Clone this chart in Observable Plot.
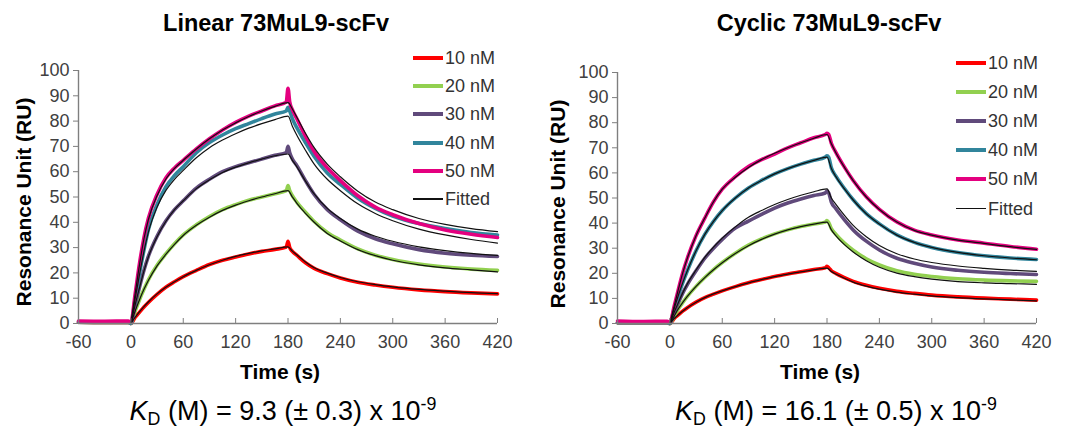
<!DOCTYPE html>
<html><head><meta charset="utf-8">
<script src="https://cdn.jsdelivr.net/npm/d3@7"></script>
<script src="https://cdn.jsdelivr.net/npm/@observablehq/plot@0.6"></script>
<style>
body{margin:0;background:#fff;}
#root{position:relative;width:1068px;height:429px;overflow:hidden;font-family:"Liberation Sans",Arial,sans-serif;}
.panel{position:absolute;top:0;}
.t{position:absolute;transform:translate(-50%,-50%);white-space:nowrap;line-height:1;color:#000;}
.title{font-weight:bold;font-size:23.5px;}
.axt{font-weight:bold;font-size:21px;}
.kd{font-size:27px;}
.leg{position:absolute;font-size:18px;color:#333;line-height:1;}
.legrow{position:absolute;left:0;display:flex;align-items:center;transform:translateY(-50%);white-space:nowrap;}
.legline{width:30px;margin-right:2px;}
</style>
</head><body>
<div id="root"></div>
<script>
// ---------- data ----------
const dataTime = [-60,-30,-3,0,5,10,15,20,30,40,50,60,75,90,105,120,135,150,165,178,180,182,185,190,200,210,225,240,260,280,300,330,360,390,420];
const fitTime = [0,5,10,15,20,30,40,50,60,75,90,105,120,135,150,165,180,185,190,200,210,225,240,260,280,300,330,360,390,420];
const concentrations = ["10 nM","20 nM","30 nM","40 nM","50 nM"];
const seriesColors = ["#ff0000","#92d050","#604a7b","#31859c","#e4007f"];
const xTicks = [-60,0,60,120,180,240,300,360,420];
const yTicks = [0,10,20,30,40,50,60,70,80,90,100];
const titles = ["Linear 73MuL9-scFv","Cyclic 73MuL9-scFv"];
const kdValues = ["9.3 (± 0.3)","16.1 (± 0.5)"];

// Linear 73MuL9-scFv: measured sensorgrams
const linear10 = [0.5,0.4,0.5,0, 2.5,4.5,6.5,8.3,11.5,14.3,16.5,18.5,21,23.3,25,26.3,27.5,28.5,29.3,30.2, 32.5,30, 28.5,27,24,21.8,19.7,18,16.3,15.2,14.3,13.3,12.6,12.1,11.7];
const linear20 = [0.5,0.4,0.5,0, 5,9.5,13.5,17.2,23,27.5,31.5,35,39,42.3,45,47,48.7,50,51.3,52.5, 54.5,52.5, 50.5,48,44,40.3,36,33,29.5,27,25.3,23.5,22.3,21.5,21];
const linear30 = [0.5,0.4,0.5,0, 7.5,14.5,21,26.5,34.5,40.5,45,48.5,53.5,57,60,62,63.5,65,66.5,67.5, 70,67.5, 65,62.5,56.5,51,45,41,36.5,33.5,31.5,29.2,27.8,27,26.5];
const linear40 = [0.7,0.5,0.6,0, 10,20,29,37,47,54,58.5,62,67.5,71.5,74.5,77,79,81,82.8,84, 85.5,84, 81,77.5,71.5,66,59.5,55,49.5,45.5,42.5,39.5,37.5,36,35];
const linear50 = [1,0.9,1,0.5, 12,24,34,41.5,51,57.5,61.5,64.5,69,73,76.5,79.5,82,84,86,87.5, 93,87.5, 84.5,81,74,68,61.5,56.5,50.5,46,43,39.5,37,35.3,34];
// Linear: fitted curves
const linearFit10 = [0,2.5,4.7,6.7,8.5,11.7,14.3,16.5,18.5,21,23.2,25,26.5,27.7,28.7,29.5,30.3, 28.6,27.2,24.3,22,19.9,18.2,16.5,15.4,14.5,13.5,12.8,12.2,11.8];
const linearFit20 = [0,5,9.5,13.5,17,22.8,27.3,31.3,34.8,38.8,42,44.7,46.8,48.5,50,51.3,52.5, 50,47.6,43.5,40,35.6,32.6,29.2,26.8,25,23.2,22,21.2,20.4];
const linearFit30 = [0,7.5,14.3,20.8,26.3,34.3,40.3,45,48.5,53.3,56.8,59.7,61.8,63.5,65,66.3,67, 64.5,62,56.3,51.2,45.5,41.5,37.3,34.5,32.5,30.3,28.8,27.7,26.9];
const linearFit40 = [0,10,19.5,28.5,36,46,52.5,57,60.5,65.5,69.5,72.5,75,77.2,79,80.6,82, 78,74.5,68.5,63,57,52.5,47.3,43.5,40.6,37.3,35,33.2,31.8];
const linearFit50 = [0,12,23.5,33.5,41,50.5,57,61.3,64.5,69,73,76.5,79.3,81.8,84,85.8,87.3, 84.8,81.6,75.2,69.5,63,58,52.3,48,45,41.5,39.2,37.5,36.3];

// Cyclic 73MuL9-scFv: measured sensorgrams
const cyclic10 = [0.3,0.3,0.3,0, 2,3.5,5,6.3,8.5,10.3,11.7,13,14.7,16.2,17.5,18.7,19.7,20.6,21.5,22.2, 22.8,22.2, 21,20,18.3,16.8,15.2,14,12.8,12,11.3,10.6,10.1,9.7,9.3];
const cyclic20 = [0.3,0.3,0.3,0, 3,6,8.5,10.8,14.8,18.3,21.5,24.3,28,31.2,33.7,35.7,37.3,38.6,39.6,40.4, 41,40.2, 37.8,35.6,32,29.2,25.8,23.3,21,19.6,18.7,17.8,17.3,17,16.8];
const cyclic30 = [0.3,0.3,0.3,0, 4.5,8.5,12.3,15.5,21,26,30,33.5,38,40.8,43.5,46,48,49.6,51,52, 52.8,52, 48.4,45.8,41.3,37.3,32.8,29.3,26,24,22.5,21.2,20.4,19.9,19.5];
const cyclic40 = [0.4,0.4,0.4,0, 6,11.5,16.5,21,29,35.5,40.7,45,50,54,57,59.6,61.7,63.5,65,66.3, 66.8,66.2, 62,58.8,53.8,49.3,43.8,39.7,35.3,32.3,30.3,28.3,27,26.1,25.5];
const cyclic50 = [1,0.8,0.9,0.5, 7,14,20.5,26,35,42,48.5,53.5,58.5,62.5,65.3,67.5,70,72,74,75.3, 75.8,75.3, 71.8,68.3,62.3,57,50.5,45.5,40.5,37.2,35.3,33.3,32,30.7,29.6];
// Cyclic: fitted curves
const cyclicFit10 = [0,2,3.6,5,6.3,8.5,10.3,11.8,13,14.7,16.2,17.5,18.7,19.7,20.6,21.4,22.1, 20.7,19.7,18,16.5,14.9,13.7,12.5,11.7,11,10.3,9.8,9.4,9];
const cyclicFit20 = [0,3,6,8.5,10.8,14.8,18.3,21.4,24.2,27.9,31,33.5,35.6,37.3,38.6,39.6,40.4, 37.3,35,31.4,28.5,25,22.4,20.1,18.7,17.7,16.7,16.2,15.9,15.6];
const cyclicFit30 = [0,4.5,8.6,12.4,15.8,21.3,26.3,30.4,34,38.5,42.3,45,47.4,49.4,51.1,52.5,53.6, 50,47.6,43.1,39.1,34.6,31.1,27.8,25.7,24.3,22.9,22,21.3,20.8];
const cyclicFit40 = [0,6,11.5,16.5,21,29,35.5,40.7,45,50,54,57,59.6,61.7,63.5,65,66.3, 61.8,58.6,53.6,49.2,43.7,39.6,35.2,32.3,30.3,28.3,27,26.1,25.4];
const cyclicFit50 = [0,7,14,20.5,26,35,42,48.5,53.5,58.3,62.2,65.3,67.8,70,72,73.8,75.3, 71.6,68.1,62.2,56.9,50.4,45.4,40.4,37.1,35.2,33.2,31.9,30.6,29.5];

// ---------- drawing ----------
const root = document.getElementById("root");

function rows(times, arrays) {
  const out = [];
  arrays.forEach((arr, i) => times.forEach((t, j) => out.push({t, v: arr[j], c: concentrations[i]})));
  return out;
}

function panel(cfg) {
  const data = rows(dataTime, cfg.data);
  const fits = rows(fitTime, cfg.fits);
  const svg = Plot.plot({
    width: 534, height: 429,
    marginLeft: cfg.ml, marginRight: cfg.mr, marginTop: cfg.mt, marginBottom: 429 - 323,
    style: {fontSize: "18px", fontFamily: "'Liberation Sans', Arial, sans-serif", color: "#404040", background: "transparent"},
    x: {domain: [-60, 420], label: null},
    y: {domain: [0, 100], label: null},
    color: {domain: concentrations, range: seriesColors},
    marks: [
      Plot.line(data, {x: "t", y: "v", z: "c", stroke: "c", strokeWidth: 3.6, curve: "monotone-x"}),
      Plot.line(fits, {x: "t", y: "v", z: "c", stroke: "#111", strokeWidth: 1.2, curve: "monotone-x"}),
      Plot.ruleX([-60], {stroke: "#7f7f7f", strokeWidth: 1.4}),
      Plot.ruleY([0], {stroke: "#7f7f7f", strokeWidth: 1.4}),
      Plot.axisY({ticks: yTicks, tickSize: 5, tickPadding: 4, label: null, stroke: "#7f7f7f", tickFormat: d => String(d)}),
      Plot.axisX({ticks: xTicks, tickSize: 5, dy: -5, tickPadding: 12, label: null, stroke: "#7f7f7f", tickFormat: d => String(d)})
    ]
  });
  const div = document.createElement("div");
  div.className = "panel";
  div.style.left = cfg.left + "px";
  div.appendChild(svg);
  root.appendChild(div);

  const addText = (cls, html, x, y, rot) => {
    const d = document.createElement("div");
    d.className = "t " + cls;
    d.innerHTML = html;
    d.style.left = x + "px"; d.style.top = y + "px";
    if (rot) d.style.transform = "translate(-50%,-50%) rotate(-90deg)";
    root.appendChild(d);
  };
  addText("title", cfg.title, cfg.titleX, 24);
  addText("axt", "Time (s)", cfg.timeX, 371);
  addText("axt", "Resonance Unit (RU)", cfg.yTitleX, cfg.yTitleY, true);
  addText("kd", '<i>K</i><span style="font-size:0.66em;position:relative;top:0.3em">D</span> (M) = ' + cfg.kd +
    ' x 10<span style="font-size:0.66em;position:relative;top:-0.55em">-9</span>', cfg.kdX, 411);

  const leg = document.createElement("div");
  leg.className = "leg";
  leg.style.left = cfg.legX + "px"; leg.style.top = "0px";
  const labels = concentrations.concat(["Fitted"]);
  labels.forEach((lab, i) => {
    const r = document.createElement("div");
    r.className = "legrow";
    r.style.top = (cfg.legY0 + i * cfg.legDY) + "px";
    const ln = document.createElement("div");
    ln.className = "legline";
    if (i < 5) { ln.style.height = "4px"; ln.style.background = seriesColors[i]; }
    else { ln.style.height = "1.3px"; ln.style.background = "#111"; }
    const tx = document.createElement("span");
    tx.textContent = lab;
    r.appendChild(ln); r.appendChild(tx);
    leg.appendChild(r);
  });
  root.appendChild(leg);
}

panel({left: 0, ml: 78, mr: 37, mt: 70,
  data: [linear10, linear20, linear30, linear40, linear50],
  fits: [linearFit10, linearFit20, linearFit30, linearFit40, linearFit50],
  title: titles[0], titleX: 276, timeX: 280, yTitleX: 23, yTitleY: 202, kd: kdValues[0], kdX: 283,
  legX: 413, legY0: 58, legDY: 28.2});
panel({left: 534, ml: 83, mr: 32, mt: 72,
  data: [cyclic10, cyclic20, cyclic30, cyclic40, cyclic50],
  fits: [cyclicFit10, cyclicFit20, cyclicFit30, cyclicFit40, cyclicFit50],
  title: titles[1], titleX: 829, timeX: 820, yTitleX: 557, yTitleY: 204, kd: kdValues[1], kdX: 836,
  legX: 956, legY0: 63, legDY: 29.1});
</script>
</body></html>
